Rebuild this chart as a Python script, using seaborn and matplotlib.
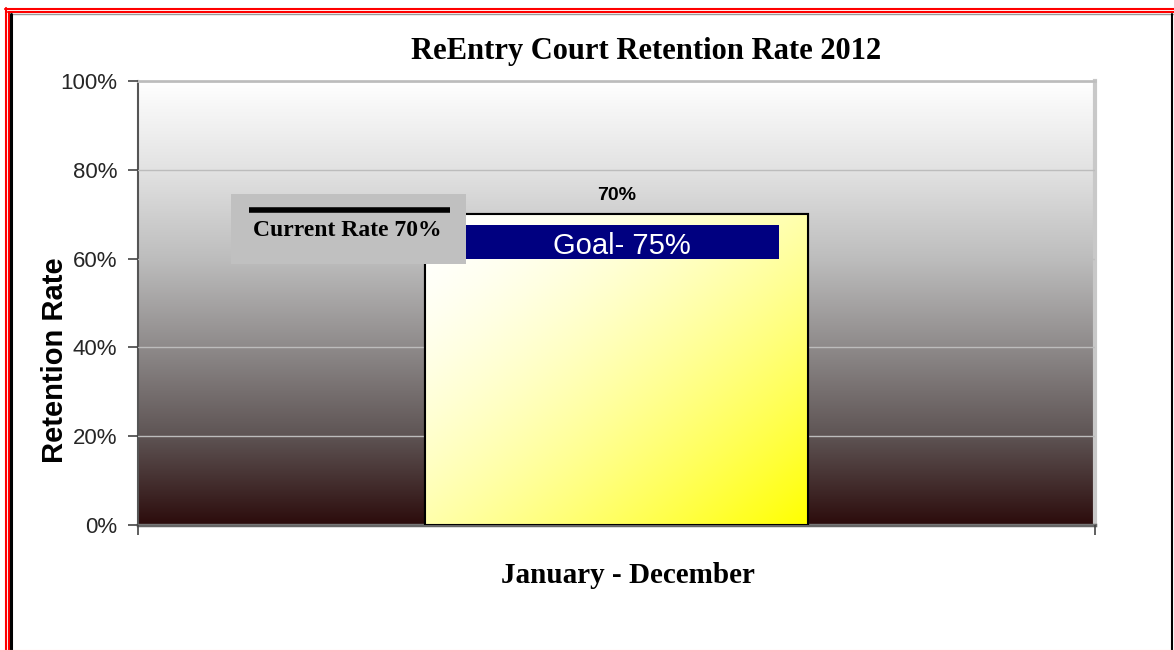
import numpy as np
import pandas as pd
import matplotlib
matplotlib.use("Agg")
import matplotlib.pyplot as plt
import seaborn as sns
from matplotlib.colors import LinearSegmentedColormap
from matplotlib.patches import Rectangle
from matplotlib.lines import Line2D

# ---------------------------------------------------------------
# Data
# ---------------------------------------------------------------
periods = ["January - December"]
retention = [70]
goal_rate = 75
current_rate = 70
yticks = [0, 20, 40, 60, 80, 100]
ytick_labels = ["0%", "20%", "40%", "60%", "80%", "100%"]

df = pd.DataFrame({"Period": periods, "Retention": retention})

sans = ["Liberation Sans", "DejaVu Sans"]
serif = ["Liberation Serif", "DejaVu Serif"]

sns.set_style("white")
plt.rcParams["font.family"] = sans
plt.rcParams["text.color"] = "black"
plt.rcParams["axes.labelcolor"] = "black"

W, H = 1174, 652
fig = plt.figure(figsize=(W / 100, H / 100), dpi=100)
ax = fig.add_axes([138 / W, 1 - 525 / H, 957 / W, 444 / H])

# ---------------------------------------------------------------
# Bar
# ---------------------------------------------------------------
sns.barplot(data=df, x="Period", y="Retention", ax=ax, width=0.4,
            color="#ffff80", edgecolor="black", linewidth=1.5, zorder=3)
ax.set_xlim(-0.5, 0.5)
ax.set_ylim(0, 100)

# plot area gradient: white at top -> gray -> dark brown at bottom
bg_cmap = LinearSegmentedColormap.from_list(
    "bg", [(0.0, "#2c0c0c"), (0.2, "#5e5454"), (0.4, "#8e8a8a"),
           (0.6, "#bdbdbd"), (0.8, "#e2e2e2"), (1.0, "#ffffff")])
grad = np.linspace(0, 1, 256).reshape(-1, 1)
ax.imshow(grad, cmap=bg_cmap, origin="lower", aspect="auto",
          extent=[-0.5, 0.5, 0, 100], zorder=0)

# bar fill gradient: white top-left -> yellow bottom-right
bar = ax.patches[0]
u, v = np.meshgrid(np.linspace(0, 1, 200), np.linspace(0, 1, 200))
diag = ((u + v) / 2) ** 1.6
bar_cmap = LinearSegmentedColormap.from_list("bar", ["#ffffff", "#ffff00"])
bx, by = bar.get_x(), bar.get_y()
bw, bh = bar.get_width(), bar.get_height()
im = ax.imshow(diag, cmap=bar_cmap, origin="upper", aspect="auto",
               extent=[bx, bx + bw, by, by + bh], zorder=3.5)
im.set_clip_path(bar)
ax.add_patch(Rectangle((bx, by), bw, bh, fill=False, edgecolor="black",
                       linewidth=1.5, zorder=4))

# value label
ax.annotate(f"{retention[0]}%", (0, retention[0]), xytext=(0, 7),
            textcoords="offset points", ha="center", va="bottom",
            fontsize=14, fontweight="bold", zorder=6)

# goal banner
ax.add_patch(Rectangle((-0.158, 60), 0.328, 7.6, facecolor="#000080",
                       edgecolor="none", zorder=5))
ax.text(0.006, 62.8, f"Goal- {goal_rate}%", ha="center", va="center",
        color="white", fontsize=21, zorder=6)

# current rate box
ax.add_patch(Rectangle((-0.403, 58.8), 0.246, 15.7, facecolor="#c0c0c0",
                       edgecolor="none", zorder=6, clip_on=False))
ax.add_line(Line2D([-0.384, -0.174], [71.0, 71.0], color="black",
                   linewidth=4, solid_capstyle="butt", zorder=7))
ax.text(-0.281, 66.3, f"Current Rate {current_rate}%", ha="center",
        va="center", fontsize=17, fontweight="bold", family=serif, zorder=7)

# ---------------------------------------------------------------
# Axes styling
# ---------------------------------------------------------------
ax.set_yticks(yticks)
ax.set_yticklabels(ytick_labels, fontsize=16)
ax.set_xticks([-0.5, 0.5])
ax.set_xticklabels(["", ""])
ax.grid(axis="y", color="#bcbcbc", linewidth=1, zorder=1)
ax.set_axisbelow(False)
for gl in ax.get_ygridlines():
    gl.set_zorder(1)
ax.tick_params(axis="y", which="both", left=True, length=7, width=1.2,
               color="#444444", pad=8)
ax.tick_params(axis="x", bottom=True, length=7, width=1.2, color="#444444")
ax.spines["left"].set_color("#555555")
ax.spines["left"].set_linewidth(1.5)
ax.spines["bottom"].set_color("#666666")
ax.spines["bottom"].set_linewidth(2.5)
ax.spines["top"].set_color("#c0c0c0")
ax.spines["top"].set_linewidth(2)
ax.spines["right"].set_color("#c8c8c8")
ax.spines["right"].set_linewidth(3)

ax.set_ylabel("Retention Rate", fontsize=21, fontweight="bold")
ax.yaxis.set_label_coords(-0.072, 0.372)
ax.set_xlabel("January - December", fontsize=21, fontweight="bold",
              family=serif)
ax.xaxis.set_label_coords(0.512, -0.083)
ax.set_title("ReEntry Court Retention Rate 2012", fontsize=22,
             fontweight="bold", family=serif, x=0.531, pad=16)

# ---------------------------------------------------------------
# Frame around figure (pixel positions)
# ---------------------------------------------------------------
def hline(y, x0, x1, color, lw):
    fig.add_artist(Line2D([x0 / W, x1 / W], [1 - y / H, 1 - y / H],
                          transform=fig.transFigure, color=color, linewidth=lw))

def vline(x, y0, y1, color, lw):
    fig.add_artist(Line2D([x / W, x / W], [1 - y0 / H, 1 - y1 / H],
                          transform=fig.transFigure, color=color, linewidth=lw))

hline(8.5, 5, W, "#ff0000", 1.5)
hline(12, 8, W, "#ff0000", 1.5)
hline(14, 10, W, "#999999", 1)
vline(5.5, 8, H, "#ff0000", 1.5)
vline(8.5, 12, H, "#ff0000", 1.5)
vline(11, 14, H, "black", 2.2)
vline(1172, 14, H, "black", 1.5)
hline(651, 0, W, "#ffc0c8", 1.5)

fig.savefig("out.png", dpi=100, facecolor="white")
